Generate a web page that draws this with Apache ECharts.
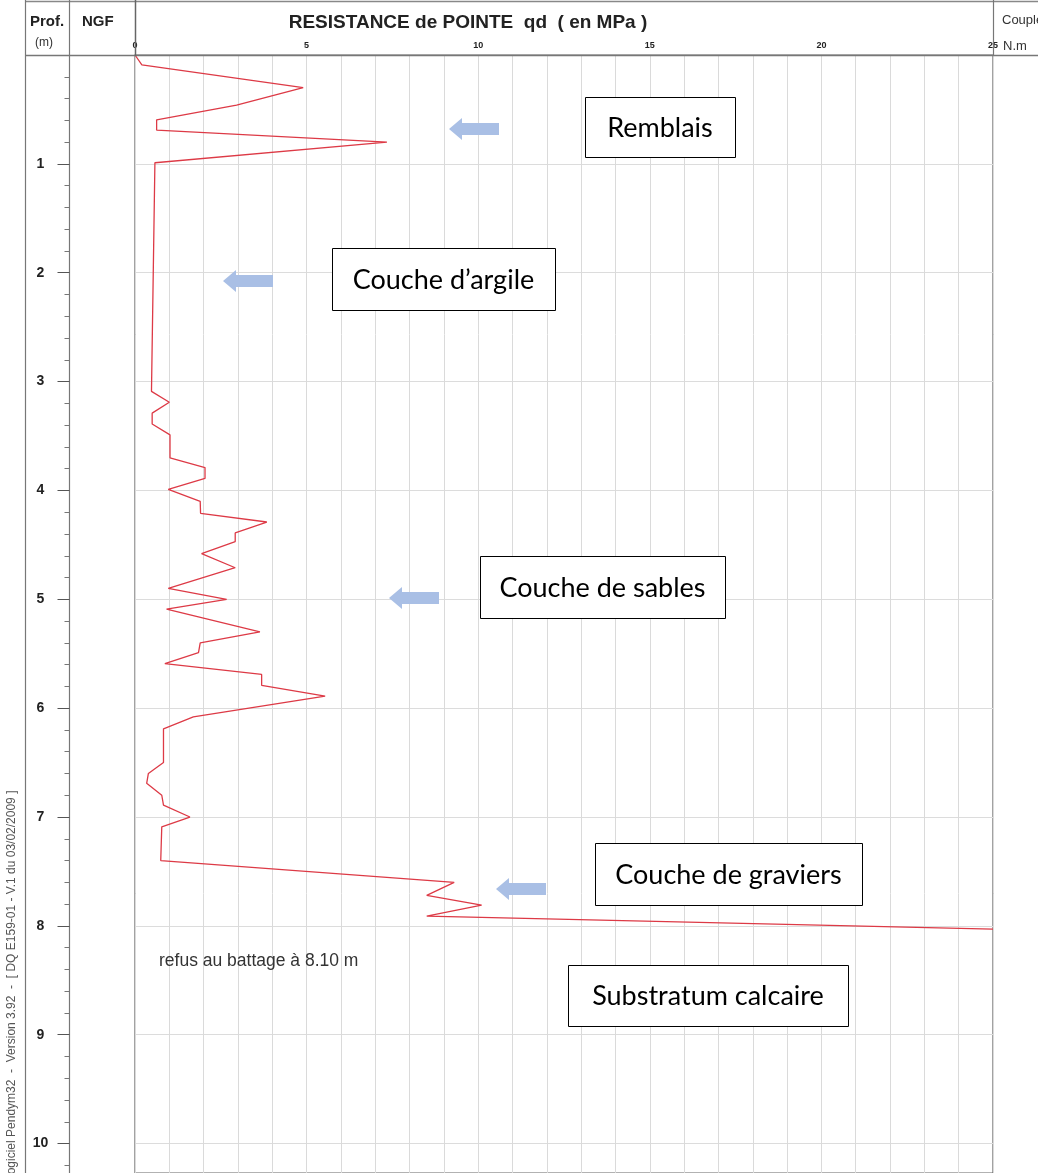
<!DOCTYPE html>
<html><head><meta charset="utf-8">
<script src="https://cdn.jsdelivr.net/npm/echarts@6/dist/echarts.min.js"></script>
<style>html,body{margin:0;padding:0;background:#fff;overflow:hidden}#c{width:1038px;height:1173px}</style>
</head><body><div id="c"></div>
<script>
// ---- data ----
const depthM = [0, 0.09, 0.30, 0.46, 0.595, 0.69, 0.80, 0.99,
  3.09, 3.19, 3.29, 3.39, 3.49, 3.70, 3.79, 3.89, 3.99,
  4.10, 4.21, 4.29, 4.39, 4.47, 4.58, 4.71, 4.90,
  5.00, 5.09, 5.30, 5.40, 5.49, 5.59, 5.69, 5.79, 5.89,
  6.08, 6.19, 6.50, 6.60, 6.69, 6.80, 6.89,
  7.00, 7.09, 7.40, 7.60, 7.72, 7.81, 7.91, 8.03];
const qdMPa = [0, 0.2, 4.9, 2.96, 0.63, 0.63, 7.34, 0.58,
  0.48, 1.0, 0.5, 0.5, 1.02, 1.02, 2.04, 2.04, 0.97,
  1.9, 1.91, 3.84, 2.92, 2.92, 1.94, 2.92, 0.97,
  2.67, 0.92, 3.64, 1.9, 1.85, 0.87, 3.69, 3.69, 5.54,
  1.7, 0.83, 0.83, 0.39, 0.34, 0.78, 0.83,
  1.6, 0.78, 0.75, 9.3, 8.5, 10.1, 8.5, 25];
const qdTickLabels = ['0', '5', '10', '15', '20', '25'];
const depthTickLabels = ['1', '2', '3', '4', '5', '6', '7', '8', '9', '10'];
const layerLabels = ['Remblais', 'Couche d’argile', 'Couche de sables', 'Couche de graviers', 'Substratum calcaire'];
const noteText = 'refus au battage à 8.10 m';
const headerTexts = { prof: 'Prof.', unit: '(m)', ngf: 'NGF', title: 'RESISTANCE de POINTE  qd  ( en MPa )', couple: 'Couple', coupleUnit: 'N.m' };
const footerText = 'Logiciel Pendym32  -  Version 3.92  -  [ DQ E159-01 - V.1 du 03/02/2009 ]';

// ---- chart ----
const chart = echarts.init(document.getElementById('c'), null, { renderer: 'canvas' });
const seriesData = depthM.map((d, i) => [qdMPa[i], d]);

const lineGray = '#777';
const boxes = [
  [585, 97, 150, 60],
  [332, 248, 223, 62],
  [480, 556, 245, 62],
  [595, 843, 267, 62],
  [568, 965, 280, 61]
];
const arrows = [[449, 129], [223, 281], [389, 598], [496, 889]];
const graphics = [];

function vline(x, y1, y2, color, w) {
  graphics.push({ type: 'line', silent: true, z: 100, shape: { x1: x, y1: y1, x2: x, y2: y2 }, style: { stroke: color, lineWidth: w } });
}
function hline(y, x1, x2, color, w) {
  graphics.push({ type: 'line', silent: true, z: 100, shape: { x1: x1, y1: y, x2: x2, y2: y }, style: { stroke: color, lineWidth: w } });
}
function txt(x, y, s, opts) {
  graphics.push({ type: 'text', silent: true, z: 102, x: x, y: y, rotation: opts.rotation || 0,
    style: Object.assign({ text: s, fill: '#222', fontFamily: 'Liberation Sans, Arial, sans-serif', align: 'left', verticalAlign: 'middle' }, opts.style) });
}

// frame / header lines
hline(1.5, 25, 1038, '#888', 1.5);
hline(55.5, 25, 1038, '#777', 1.5);
vline(25.5, 0, 1173, lineGray, 1.2);
vline(69.5, 0, 56, lineGray, 1.2);
vline(135.5, 0, 56, '#666', 1.5);
vline(993.5, 0, 56, lineGray, 1.2);

// header texts
txt(30, 22, headerTexts.prof, { style: { fontSize: 15, fontWeight: 'bold' } });
txt(44, 43, headerTexts.unit, { style: { fontSize: 12, align: 'center', fill: '#333' } });
txt(82, 22, headerTexts.ngf, { style: { fontSize: 15, fontWeight: 'bold' } });
txt(468, 23, headerTexts.title, { style: { fontSize: 19, fontWeight: 'bold', align: 'center' } });
txt(1002, 20, headerTexts.couple, { style: { fontSize: 13, fill: '#333' } });
txt(1003, 46, headerTexts.coupleUnit, { style: { fontSize: 13, fill: '#333' } });

// footer rotated text
txt(12, 1181, footerText, { rotation: Math.PI / 2, style: { fontSize: 12, fill: '#555' } });

// note
txt(159, 961, noteText, { style: { fontSize: 17.5, fill: '#333' } });

// layer boxes
boxes.forEach((b, i) => {
  graphics.push({ type: 'rect', silent: true, z: 101, shape: { x: b[0] + 0.5, y: b[1] + 0.5, width: b[2], height: b[3] }, style: { fill: '#fff', stroke: '#000', lineWidth: 1 } });
  txt(b[0] + b[2] / 2, b[1] + b[3] / 2 + 1, layerLabels[i], { style: { fontSize: 27, fontFamily: 'Lato, Open Sans, sans-serif', fill: '#000', align: 'center' } });
});

// arrows
arrows.forEach(a => {
  const x = a[0], y = a[1];
  graphics.push({ type: 'polygon', silent: true, z: 101, shape: { points: [[x, y], [x + 13, y - 11], [x + 13, y - 6], [x + 50, y - 6], [x + 50, y + 6], [x + 13, y + 6], [x + 13, y + 11]] }, style: { fill: '#a9bfe5' } });
});

const depthMax = 10.27;
const option = {
  animation: false,
  backgroundColor: '#fff',
  grid: [
    { left: 135, right: 45, top: 55, bottom: -5, show: true, borderColor: '#666', borderWidth: 1.2, backgroundColor: 'transparent' },
    { left: 20, width: 49.5, top: 55, bottom: -5, show: false }
  ],
  xAxis: [{
    type: 'value', position: 'top', min: 0, max: 25, interval: 5, gridIndex: 0,
    axisLine: { show: false }, axisTick: { show: false },
    axisLabel: { margin: 5, fontSize: 9, fontWeight: 'bold', color: '#222', fontFamily: 'Liberation Sans, Arial, sans-serif',
      formatter: v => qdTickLabels[Math.round(v / 5)] },
    splitLine: { show: true, lineStyle: { color: '#dadada', width: 1 } },
    minorTick: { show: false, splitNumber: 5 },
    minorSplitLine: { show: true, lineStyle: { color: '#dadada', width: 1 } }
  }, {
    type: 'value', gridIndex: 1, min: 0, max: 1, show: false
  }],
  yAxis: [{
    type: 'value', inverse: true, min: 0, max: depthMax, interval: 1, gridIndex: 0,
    axisLine: { show: false, onZero: false }, axisTick: { show: false }, axisLabel: { show: false },
    splitLine: { show: true, lineStyle: { color: '#dcdcdc', width: 1 } }
  }, {
    type: 'value', inverse: true, min: 0, max: depthMax, interval: 1, gridIndex: 1,
    position: 'right',
    axisLine: { show: true, onZero: false, lineStyle: { color: lineGray, width: 1.2 } },
    axisTick: { show: true, inside: true, length: 12, lineStyle: { color: '#555', width: 1 } },
    minorTick: { show: true, splitNumber: 5, length: 5, lineStyle: { color: '#777', width: 1 } },
    axisLabel: { inside: true, margin: 29, align: 'center', fontSize: 14, fontWeight: 'bold', color: '#222', fontFamily: 'Liberation Sans, Arial, sans-serif',
      showMaxLabel: false,
      formatter: v => (Number.isInteger(v) && v > 0 ? depthTickLabels[v - 1] : '') },
    splitLine: { show: false }
  }],
  series: [{
    type: 'line', data: seriesData, showSymbol: false, symbol: 'none', xAxisIndex: 0, yAxisIndex: 0,
    lineStyle: { color: '#dd3a46', width: 1.3 }, clip: true, z: 5
  }],
  graphic: graphics
};
chart.setOption(option);
</script></body></html>
